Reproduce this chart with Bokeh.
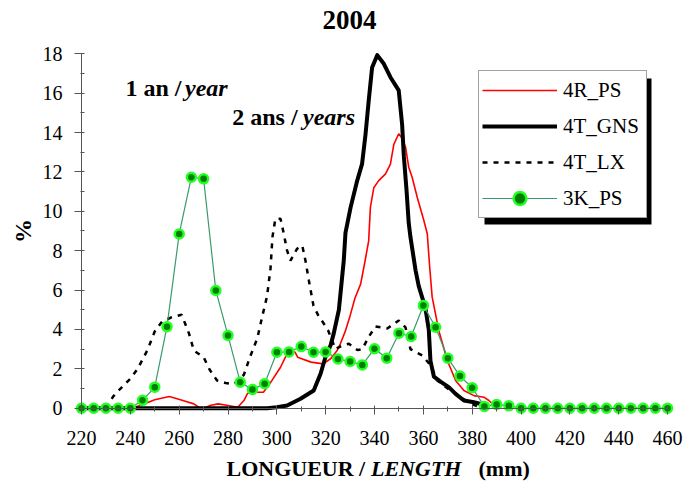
from bokeh.plotting import figure
from bokeh.models import Range1d, FixedTicker, Legend, LegendItem, Label
from bokeh.embed import file_html
from bokeh.resources import INLINE

# ---------------- data ----------------
LEN_4R_PS = [220, 240, 244, 250, 256, 260.5, 266, 268, 270, 273, 276, 280, 284, 286.5, 288, 290,
             294.5, 298, 301.5, 303.5, 305.5, 307.5, 308.5, 314, 319, 322, 324.7, 326, 328, 330,
             332, 334.3, 336, 337.6, 338.3, 339.7, 341.7, 344.5, 346.5, 347.9, 349.9, 351, 352.7,
             354, 355.4, 357.5, 360.2, 361.6, 362.5, 363.6, 366.3, 369.8, 373.2, 376.6, 380.7,
             384.8, 386.8, 389, 391]
PCT_4R_PS = [0, 0, 0.14, 0.43, 0.59, 0.43, 0.22, 0.05, 0, 0.15, 0.22, 0.14, 0.05, 0.39, 0.75, 0.81,
             0.81, 1.41, 2.08, 2.59, 2.93, 2.84, 2.59, 2.34, 2.25, 2.51, 2.93, 3.27, 3.9, 4.7,
             5.6, 6.3, 7.4, 8.5, 10.2, 11.2, 11.56, 11.9, 12.4, 13.4, 13.94, 13.76, 13.26,
             12.24, 11.73, 10.7, 9.53, 8.86, 7.3, 5.64, 3.95, 2.42, 1.41, 0.9, 0.64,
             0.56, 0.39, 0.14, 0]

LEN_4T_GNS = [220, 296, 300, 304.2, 309.7, 315.1, 317.9, 319.9, 322, 323.3, 325.4, 327.4, 328.1,
              330.2, 332.9, 334.9, 336.3, 337.6, 339, 341.1, 343.8, 346.5, 349.9, 351.3, 352,
              353.1, 354, 354.7, 356.8, 358.1, 360.8, 362.2, 362.9, 364.3, 367, 370.4, 373.2,
              376.6, 380.7, 383.4, 385]
PCT_4T_GNS = [0, 0, 0.05, 0.14, 0.48, 0.9, 1.75, 2.6, 3.2, 3.8, 5.0, 7.5, 8.9,
              10.2, 11.56, 12.41, 13.9, 15.6, 17.3, 17.93, 17.49, 16.81, 16.14, 14.4, 12.8,
              11.06, 9.4, 8.7, 7.0, 6.2, 5.1, 4.0, 2.4, 1.6, 1.35, 1.07, 0.73,
              0.39, 0.3, 0.22, 0]

LEN_4T_LX = [230, 233, 236, 240, 243, 247, 250, 253, 257, 261, 264, 266, 270, 272.5, 275.5, 279,
             282.5, 286.5, 289, 292, 294, 296, 297.4, 298.2, 299.4, 301.5, 302.6, 304.2, 305.6,
             308.3, 310.4, 311.7, 313.1, 315, 317, 319.2, 321, 324, 327, 329.5, 333, 335, 337.5,
             340.4, 345.2, 349.9, 352.7, 354.7, 359.5, 363, 365.7, 371, 376, 380, 384]
PCT_4T_LX = [0, 0.6, 1.0, 1.5, 2.0, 2.95, 3.9, 4.4, 4.62, 4.75, 3.8, 2.93, 2.59, 1.95, 1.41, 1.28,
             1.22, 1.7, 2.6, 3.55, 4.65, 5.7, 7.1, 8.7, 9.62, 9.62, 9.0, 8.0, 7.5,
             8.1, 8.26, 7.5, 6.49, 5.2, 4.7, 4.3, 3.95, 3.0, 3.2, 3.27, 2.95, 3.0, 3.6,
             4.15, 4.05, 4.45, 4.1, 3.0, 2.68, 2.17, 1.41, 0.9, 0.5, 0.2, 0]

LEN_3K_PS = [220, 225, 230, 235, 240, 245, 250, 255, 260, 265, 270, 275, 280, 285, 290, 295,
             300, 305, 310, 315, 320, 325, 330, 335, 340, 345, 350, 355, 360, 365, 370, 375,
             380, 385, 390, 395, 400, 405, 410, 415, 420, 425, 430, 435, 440, 445, 450, 455, 460]
PCT_3K_PS = [0, 0, 0, 0, 0, 0.4, 1.07, 4.14, 8.85, 11.73, 11.65, 5.98, 3.69, 1.32, 0.95, 1.24,
             2.84, 2.86, 3.13, 2.84, 2.86, 2.5, 2.37, 2.2, 3.02, 2.54, 3.81, 3.64, 5.22, 4.11, 2.54, 1.63,
             1.04, 0.09, 0.19, 0.12, 0, 0, 0, 0, 0, 0, 0, 0, 0, 0, 0, 0, 0]

X_TICKS = [220, 240, 260, 280, 300, 320, 340, 360, 380, 400, 420, 440, 460]
X_MINOR = [230, 250, 270, 290, 310, 330, 350, 370, 390, 410, 430, 450]
Y_TICKS = [0, 2, 4, 6, 8, 10, 12, 14, 16, 18]
Y_MINOR = [1, 3, 5, 7, 9, 11, 13, 15, 17]

SERIES_NAMES = ["4R_PS", "4T_GNS", "4T_LX", "3K_PS"]
TITLE = "2004"

# ---------------- layout ----------------
FONT = "Liberation Serif"
W, H = 684, 486
PX_MM, PX_PCT = 2.442, 19.69               # px per mm, px per %
AXIS_X_PX, AXIS_Y_PX = 81, 407.7           # canvas px of (220, 0)

# the frame covers the whole canvas; axes sit at fixed data locations
X0 = 220 - AXIS_X_PX / PX_MM
X1 = X0 + W / PX_MM
Y0 = -(H - AXIS_Y_PX) / PX_PCT
Y1 = Y0 + H / PX_PCT


def dx(px):
    return 220 + (px - AXIS_X_PX) / PX_MM


def dy(py):
    return (AXIS_Y_PX - py) / PX_PCT


p = figure(width=W, height=H, output_backend="svg", toolbar_location=None,
           x_range=Range1d(X0, X1), y_range=Range1d(Y0, Y1),
           min_border_left=0, min_border_right=0, min_border_top=0, min_border_bottom=0)
p.title.visible = False
p.outline_line_color = None
p.grid.visible = False
p.background_fill_color = "white"
p.border_fill_color = "white"

# axes
AX_COLOR = "#555555"
xa = p.xaxis[0]
xa.fixed_location = 0
xa.bounds = (220, 460)
xa.ticker = FixedTicker(ticks=X_TICKS, minor_ticks=X_MINOR)
xa.axis_line_color = AX_COLOR
xa.major_tick_line_color = AX_COLOR
xa.minor_tick_line_color = AX_COLOR
xa.major_tick_in, xa.major_tick_out = 3, 6
xa.minor_tick_in, xa.minor_tick_out = 2, 3
xa.major_label_text_font = FONT
xa.major_label_text_font_size = "20px"
xa.major_label_text_color = "black"
xa.major_label_standoff = 17

ya = p.yaxis[0]
ya.fixed_location = 220
ya.bounds = (0, 18)
ya.ticker = FixedTicker(ticks=Y_TICKS, minor_ticks=Y_MINOR)
ya.axis_line_color = AX_COLOR
ya.major_tick_line_color = AX_COLOR
ya.minor_tick_line_color = AX_COLOR
ya.major_tick_in, ya.major_tick_out = 3, 7
ya.minor_tick_in, ya.minor_tick_out = 3, 1
ya.major_label_text_font = FONT
ya.major_label_text_font_size = "20px"
ya.major_label_text_color = "black"
ya.major_label_standoff = 12
ya.axis_label = "%"
ya.axis_label_text_font = FONT
ya.axis_label_text_font_style = "bold"
ya.axis_label_text_font_size = "24px"
ya.axis_label_text_color = "black"
ya.axis_label_standoff = 4

# legend geometry (canvas px)
LEG_L, LEG_T = 478, 72
LEG_W, LEG_H = 167, 146
SH = 6
p.quad(left=[dx(LEG_L + SH)], right=[dx(LEG_L + LEG_W + SH)],
       top=[dy(LEG_T + SH)], bottom=[dy(LEG_T + LEG_H + SH)],
       fill_color="black", line_color=None)

# series
r_red = p.line(LEN_4R_PS, PCT_4R_PS, line_color="#FF0000", line_width=1.6)
r_blk = p.line(LEN_4T_GNS, PCT_4T_GNS, line_color="black", line_width=4, line_join="round")
r_lx = p.line(LEN_4T_LX, PCT_4T_LX, line_color="black", line_width=2.5, line_dash="5 6")
r_kl = p.line(LEN_3K_PS, PCT_3K_PS, line_color="#3A9A6C", line_width=1.2)
r_kp = p.scatter(LEN_3K_PS, PCT_3K_PS, size=9, fill_color="#007F00",
                 line_color="#22FF22", line_width=2.5)

legend = Legend(items=[LegendItem(label=SERIES_NAMES[0], renderers=[r_red]),
                       LegendItem(label=SERIES_NAMES[1], renderers=[r_blk]),
                       LegendItem(label=SERIES_NAMES[2], renderers=[r_lx]),
                       LegendItem(label=SERIES_NAMES[3], renderers=[r_kl, r_kp])],
                location=(LEG_L, H - LEG_T - LEG_H), margin=0, padding=3,
                spacing=4, glyph_width=75, glyph_height=32, label_standoff=6,
                label_width=80)
legend.label_text_font = FONT
legend.label_text_font_size = "21px"
legend.label_text_color = "black"
legend.border_line_color = "#444444"
legend.border_line_width = 1
legend.background_fill_color = "white"
legend.background_fill_alpha = 1
p.add_layout(legend)

# texts (title, annotations with mixed bold / bold italic, x axis title)


def add_text(txt, px, py, size, style):
    p.add_layout(Label(x=dx(px), y=dy(py), text=txt, text_font=FONT, text_font_size=size,
                       text_font_style=style, text_color="black", text_align="left",
                       text_baseline="middle"))


add_text(TITLE, 322, 19.5, "27px", "bold")

add_text("1 an / ", 125, 87, "24px", "bold")
add_text("year", 184.5, 87, "24px", "bold italic")
add_text("2 ans / ", 231.7, 116, "24px", "bold")
add_text("years", 302.5, 116, "24px", "bold italic")

add_text("LONGUEUR / ", 226, 467.5, "22px", "bold")
add_text("LENGTH", 370.5, 467.5, "22px", "bold italic")
add_text("(mm)", 478, 467.5, "22px", "bold")

open("out.html", "w").write(file_html(p, INLINE))
